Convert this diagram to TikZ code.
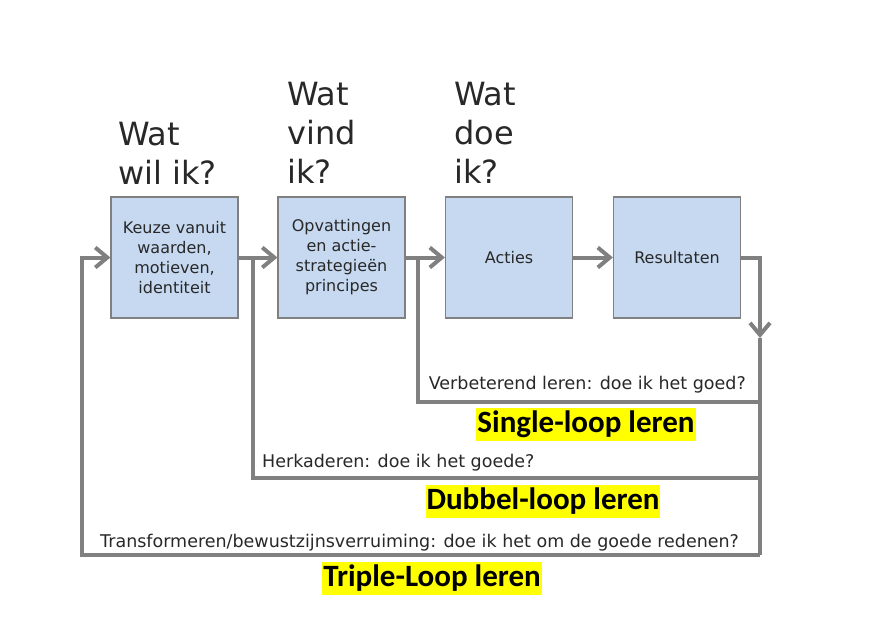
\documentclass[tikz,border=0pt]{standalone}
\usepackage{fontspec}
\setmainfont{DejaVu Sans}
\newfontfamily\carlito{Carlito}
\usetikzlibrary{arrows.meta}
\definecolor{boxblue}{RGB}{198,217,241}
\definecolor{boxline}{RGB}{128,128,128}
\definecolor{flowgray}{RGB}{128,128,128}
\definecolor{textgray}{RGB}{40,40,40}
\definecolor{markgeel}{RGB}{255,255,0}

\begin{document}
\begin{tikzpicture}[x=1pt,y=-1pt,
    box/.style={draw=boxline, fill=boxblue, line width=1.2pt, minimum width=127pt, minimum height=121pt,
        align=center, text=textgray, font=\fontsize{16}{20}\selectfont},
    flow/.style={draw=flowgray, line width=4pt, -{Straight Barb[length=12pt,width=20pt,line width=4pt]}},
    loopline/.style={draw=flowgray, line width=4pt},
    vraag/.style={anchor=south west, inner sep=0pt, align=left, text=textgray, font=\fontsize{32}{39}\selectfont},
    uitleg/.style={inner sep=0pt, text=textgray, font=\fontsize{17.5}{20}\selectfont},
    markeer/.style={fill=markgeel, inner xsep=1pt, inner ysep=0pt, minimum height=33pt, font=\carlito\bfseries\fontsize{31}{33}\selectfont}]
    \useasboundingbox (0,0) rectangle (877,624);
    \node[box] (keuze) at (174.5,257.5) {Keuze vanuit\\waarden,\\motieven,\\identiteit};
    \node[box] (opvat) at (341.5,257.5) {Opvattingen\\en actie-\\strategieën\\principes};
    \node[box] (acties) at (509,257.5) {Acties};
    \node[box] (result) at (677,257.5) {Resultaten};
    \node[vraag] (wil) at (118,185) {Wat\\wil ik?};
    \node[vraag] (vind) at (287,184) {Wat\\vind\\ik?};
    \node[vraag] (doe) at (454,184) {Wat\\doe\\ik?};
    \draw[flow] (keuze) -- (opvat);
    \draw[flow] (opvat) -- (acties);
    \draw[flow] (acties) -- (result);
    \coordinate (pijl) at (760,338);
    \coordinate (single) at (760,402);
    \coordinate (dubbel) at (760,478);
    \coordinate (triple) at (760,555);
    \draw[flow] (result.east) -| (pijl);
    \draw[loopline] (pijl) -- (triple);
    \draw[loopline] (single) -| (418,257.5);
    \draw[loopline] (dubbel) -| (253,257.5);
    \draw[flow] (triple) -| (82,257.5) -- (keuze.west);
    \node[uitleg, anchor=base east] (verbeter) at (746,389) {Verbeterend leren: doe ik het goed?};
    \node[uitleg, anchor=base west] (herkader) at (262,467) {Herkaderen: doe ik het goede?};
    \node[uitleg, anchor=base west] (transform) at (100,547) {Transformeren/bewustzijnsverruiming: doe ik het om de goede redenen?};
    \node[markeer] (singlelabel) at (586,424) {Single-loop leren};
    \node[markeer] (dubbellabel) at (543,501) {Dubbel-loop leren};
    \node[markeer] (triplelabel) at (432,578) {Triple-Loop leren};
\end{tikzpicture}
\end{document}
